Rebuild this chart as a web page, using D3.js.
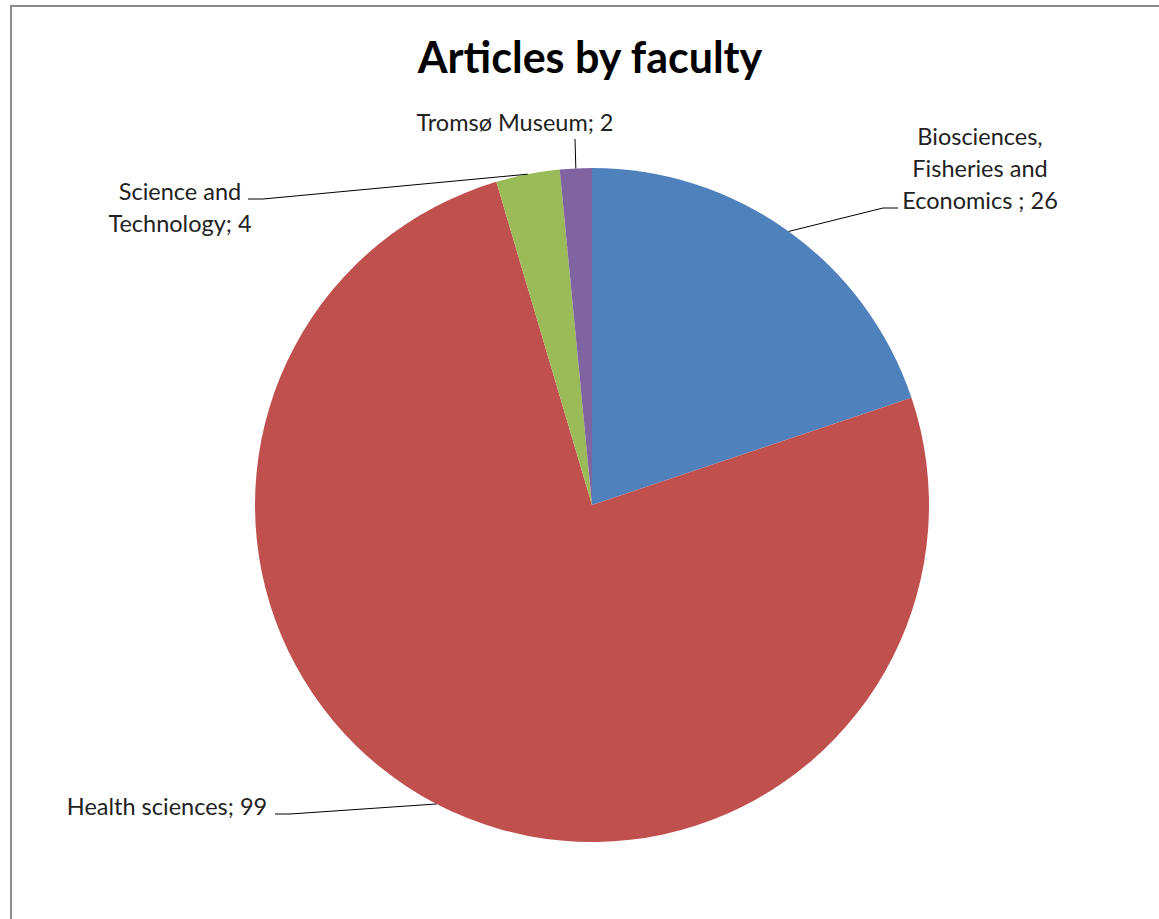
<!DOCTYPE html>
<html>
<head>
<meta charset="utf-8">
<script src="https://cdn.jsdelivr.net/npm/d3@7"></script>
<style>
  body { margin: 0; background: #fff; }
  svg { display: block; }
</style>
</head>
<body>
<svg id="chart"></svg>
<script>
// data
var faculties = ["Biosciences, Fisheries and Economics", "Health sciences", "Science and Technology", "Tromsø Museum"];
var articles = [26, 99, 4, 2];
var labelLines = [
  ["Biosciences,", "Fisheries and", "Economics ; 26"],
  ["Health sciences; 99"],
  ["Science and", "Technology; 4"],
  ["Tromsø Museum; 2"]
];
var colors = ["#4f81bd", "#c0504d", "#9bbb59", "#8064a2"];

// label placement (layout only): text centre, first baseline, leader start
var labelLayout = [
  {x: 980, y: 145, lx: 898, ly: 208, elbow: 883},
  {x: 167, y: 815, lx: 275, ly: 814, elbow: 290},
  {x: 180, y: 200, lx: 248, ly: 199, elbow: 263},
  {x: 515, y: 131, lx: 575, ly: 139, elbow: null}
];

var W = 1159, H = 919;
var cx = 592, cy = 505, radius = 337;
var font = "Lato, 'Open Sans', sans-serif";

var svg = d3.select("#chart").attr("width", W).attr("height", H);

// chart frame (only top and left edges visible in the crop)
svg.append("path")
  .attr("d", "M11,919 V6 H1159")
  .attr("fill", "none")
  .attr("stroke", "#8c8c8c")
  .attr("stroke-width", 2);

svg.append("text")
  .attr("x", 590)
  .attr("y", 73)
  .attr("text-anchor", "middle")
  .attr("font-family", font)
  .attr("font-weight", "bold")
  .attr("font-size", 43)
  .attr("fill", "#000")
  .text("Articles by faculty");

var pie = d3.pie().sort(null).value(function(d) { return d; });
var arcs = pie(articles);
var arc = d3.arc().innerRadius(0).outerRadius(radius);

var g = svg.append("g").attr("transform", "translate(" + cx + "," + cy + ")");

g.selectAll("path.slice")
  .data(arcs)
  .enter().append("path")
  .attr("class", "slice")
  .attr("d", arc)
  .attr("fill", function(d, i) { return colors[i]; });

// leader lines end on the rim at each slice's mid angle
var rim = d3.arc().innerRadius(radius).outerRadius(radius);
arcs.forEach(function(d, i) {
  var p = rim.centroid(d);
  var L = labelLayout[i];
  var pts = [[L.lx, L.ly]];
  if (L.elbow !== null) pts.push([L.elbow, L.ly]);
  pts.push([cx + p[0], cy + p[1]]);
  svg.append("path")
    .attr("d", d3.line()(pts))
    .attr("fill", "none")
    .attr("stroke", "#000")
    .attr("stroke-width", 1);
});

labelLines.forEach(function(lines, i) {
  var L = labelLayout[i];
  var t = svg.append("text")
    .attr("text-anchor", "middle")
    .attr("font-family", font)
    .attr("font-size", 23.5)
    .attr("fill", "#222");
  lines.forEach(function(s, j) {
    t.append("tspan").attr("x", L.x).attr("y", L.y + j * 32).text(s);
  });
});
</script>
</body>
</html>
